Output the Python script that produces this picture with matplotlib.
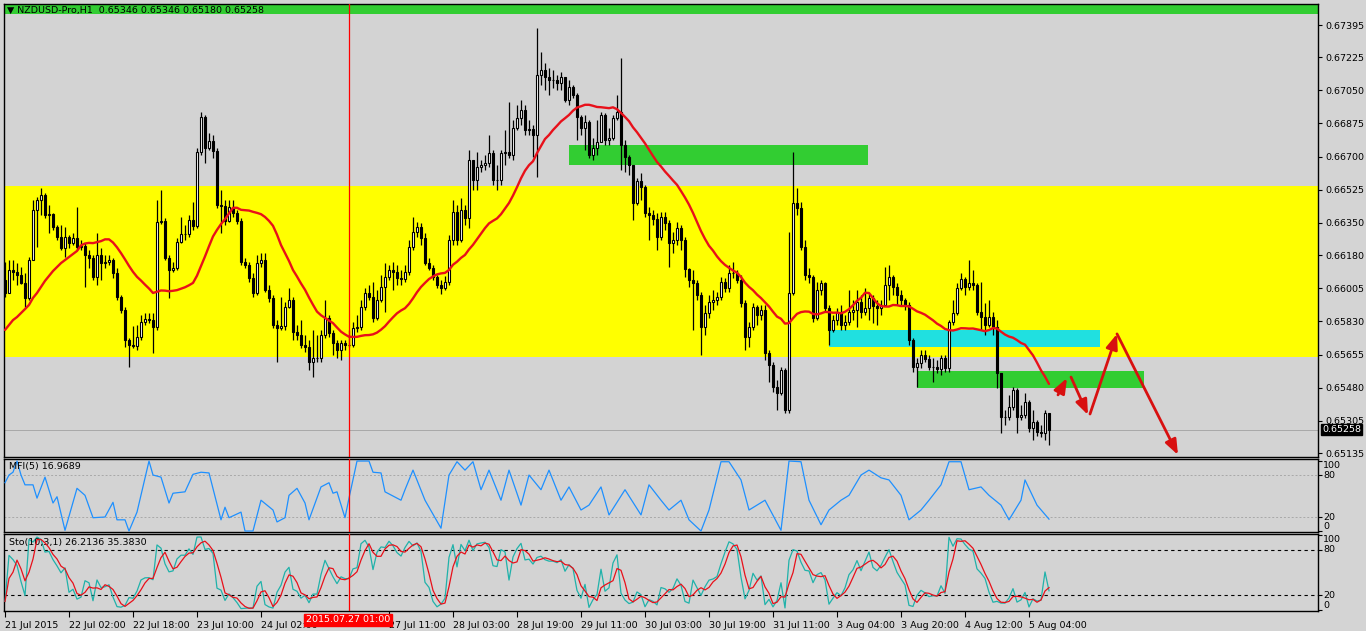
import numpy as np
import pandas as pd
import matplotlib
matplotlib.use('Agg')
import matplotlib.pyplot as plt
from matplotlib.transforms import blended_transform_factory

# ---------------- data (NZDUSD-Pro, H1) ----------------
first_open = 0.66049
closes = [
    0.65980, 0.66101, 0.66090, 0.66075, 0.66033, 0.65954, 0.66154, 0.66418, 0.66471, 0.66498,
    0.66392, 0.66397, 0.66328, 0.66276, 0.66218, 0.66276, 0.66244, 0.66271, 0.66223, 0.66228,
    0.66181, 0.66165, 0.66064, 0.66181, 0.66138, 0.66143, 0.66154, 0.66085, 0.65959, 0.65890,
    0.65732, 0.65706, 0.65700, 0.65748, 0.65826, 0.65843, 0.65837, 0.65800, 0.66354, 0.66360,
    0.66165, 0.66101, 0.66112, 0.66249, 0.66292, 0.66292, 0.66365, 0.66333, 0.66724, 0.66909,
    0.66746, 0.66783, 0.66730, 0.66445, 0.66439, 0.66360, 0.66434, 0.66402, 0.66360, 0.66143,
    0.66128, 0.66059, 0.65980, 0.66138, 0.66154, 0.65996, 0.65954, 0.65811, 0.65795, 0.65805,
    0.65906, 0.65943, 0.65774, 0.65759, 0.65706, 0.65695, 0.65615, 0.65636, 0.65636, 0.65759,
    0.65848, 0.65769, 0.65716, 0.65679, 0.65716, 0.65706, 0.65706, 0.65795, 0.65800, 0.65906,
    0.65980, 0.65959, 0.65848, 0.65943, 0.66012, 0.66064, 0.66101, 0.66090, 0.66059, 0.66054,
    0.66090, 0.66223, 0.66302, 0.66328, 0.66271, 0.66138, 0.66112, 0.66064, 0.66023, 0.66007,
    0.66038, 0.66260, 0.66407, 0.66260, 0.66418, 0.66376, 0.66682, 0.66577, 0.66645, 0.66656,
    0.66666, 0.66719, 0.66577, 0.66577, 0.66719, 0.66724, 0.66709, 0.66852, 0.66904, 0.66946,
    0.66841, 0.66846, 0.66815, 0.67131, 0.67157, 0.67120, 0.67105, 0.67105, 0.67089, 0.67120,
    0.66999, 0.67068, 0.67026, 0.66909, 0.66852, 0.66883, 0.66709, 0.66746, 0.66778, 0.66920,
    0.66788, 0.66799, 0.66904, 0.66935, 0.66762, 0.66698, 0.66656, 0.66455, 0.66571, 0.66540,
    0.66402, 0.66392, 0.66371, 0.66276, 0.66381, 0.66349, 0.66244, 0.66260, 0.66323, 0.66260,
    0.66106, 0.66049, 0.66033, 0.65970, 0.65800, 0.65874, 0.65932, 0.65943, 0.65959, 0.66038,
    0.66007, 0.66085, 0.66085, 0.66049, 0.65927, 0.65748, 0.65800, 0.65906, 0.65864, 0.65890,
    0.65663, 0.65600, 0.65484, 0.65452, 0.65573, 0.65362, 0.65980, 0.66455, 0.66429, 0.66223,
    0.66075, 0.66064, 0.65848, 0.65996, 0.66033, 0.65901, 0.65785, 0.65837, 0.65880, 0.65811,
    0.65826, 0.65880, 0.65890, 0.65932, 0.65880, 0.65901, 0.65954, 0.65911, 0.65901, 0.65917,
    0.66023, 0.66064, 0.66012, 0.65970, 0.65943, 0.65917, 0.65732, 0.65589, 0.65610, 0.65653,
    0.65631, 0.65589, 0.65589, 0.65579, 0.65636, 0.65584, 0.65826, 0.65874, 0.66007, 0.66054,
    0.66012, 0.66033, 0.66023, 0.65880, 0.65853, 0.65811, 0.65853, 0.65800, 0.65557, 0.65325,
    0.65325, 0.65378, 0.65468, 0.65325, 0.65336, 0.65405, 0.65267, 0.65299, 0.65246, 0.65241,
    0.65346, 0.65258]
highs = [
    0.66143, 0.66154, 0.66154, 0.66138, 0.66117, 0.66085, 0.66170, 0.66471, 0.66487, 0.66535,
    0.66508, 0.66445, 0.66402, 0.66339, 0.66339, 0.66328, 0.66287, 0.66297, 0.66434, 0.66260,
    0.66244, 0.66207, 0.66181, 0.66297, 0.66218, 0.66181, 0.66181, 0.66165, 0.66112, 0.65970,
    0.65906, 0.65742, 0.65805, 0.65811, 0.65864, 0.65874, 0.65874, 0.65874, 0.66471, 0.66524,
    0.66376, 0.66181, 0.66143, 0.66271, 0.66381, 0.66339, 0.66392, 0.66460, 0.66746, 0.66935,
    0.66920, 0.66825, 0.66815, 0.66746, 0.66524, 0.66471, 0.66471, 0.66471, 0.66418, 0.66376,
    0.66165, 0.66143, 0.66085, 0.66181, 0.66191, 0.66191, 0.66023, 0.65970, 0.65837, 0.65959,
    0.65932, 0.66007, 0.65959, 0.65811, 0.65837, 0.65759, 0.65732, 0.65785, 0.65759, 0.65785,
    0.65943, 0.65864, 0.65785, 0.65732, 0.65732, 0.65732, 0.65785, 0.65826, 0.65864, 0.65943,
    0.66007, 0.66023, 0.66038, 0.65996, 0.66075, 0.66138, 0.66128, 0.66143, 0.66128, 0.66101,
    0.66128, 0.66260, 0.66381, 0.66354, 0.66349, 0.66297, 0.66165, 0.66128, 0.66075, 0.66049,
    0.66070, 0.66287, 0.66471, 0.66445, 0.66482, 0.66445, 0.66735, 0.66645, 0.66724, 0.66682,
    0.66709, 0.66815, 0.66735, 0.66656, 0.66735, 0.66841, 0.66988, 0.66893, 0.66973, 0.66999,
    0.66973, 0.66893, 0.66867, 0.67379, 0.67252, 0.67194, 0.67168, 0.67157, 0.67131, 0.67146,
    0.67115, 0.67105, 0.67078, 0.67036, 0.66920, 0.66920, 0.66893, 0.66799, 0.66893, 0.66935,
    0.66930, 0.66852, 0.66920, 0.67026, 0.67221, 0.66788, 0.66709, 0.66656, 0.66587, 0.66613,
    0.66551, 0.66434, 0.66418, 0.66402, 0.66407, 0.66407, 0.66365, 0.66302, 0.66354, 0.66339,
    0.66276, 0.66112, 0.66101, 0.66049, 0.65985, 0.65917, 0.65970, 0.65996, 0.65985, 0.66064,
    0.66059, 0.66128, 0.66143, 0.66101, 0.66075, 0.65943, 0.65826, 0.65927, 0.65917, 0.65917,
    0.65917, 0.65679, 0.65615, 0.65521, 0.65589, 0.65584, 0.66302, 0.66724, 0.66535, 0.66460,
    0.66260, 0.66112, 0.66075, 0.66038, 0.66049, 0.66038, 0.65917, 0.65864, 0.65901, 0.65917,
    0.65864, 0.65996, 0.65943, 0.65996, 0.65970, 0.66007, 0.65980, 0.65970, 0.65943, 0.65943,
    0.66117, 0.66128, 0.66075, 0.66033, 0.65996, 0.65954, 0.65932, 0.65742, 0.65636, 0.65679,
    0.65679, 0.65653, 0.65636, 0.65626, 0.65653, 0.65653, 0.65837, 0.65943, 0.66033, 0.66085,
    0.66064, 0.66154, 0.66101, 0.66033, 0.66038, 0.65927, 0.65943, 0.65880, 0.65837, 0.65557,
    0.65362, 0.65441, 0.65484, 0.65479, 0.65389, 0.65452, 0.65415, 0.65362, 0.65309, 0.65283,
    0.65362, 0.65346]
lows = [
    0.65959, 0.65996, 0.66049, 0.66023, 0.66028, 0.65906, 0.65943, 0.66154, 0.66223, 0.66392,
    0.66376, 0.66297, 0.66313, 0.66260, 0.66207, 0.66170, 0.66218, 0.66234, 0.66207, 0.66207,
    0.66012, 0.66112, 0.66049, 0.66023, 0.66049, 0.66112, 0.66128, 0.66059, 0.65943, 0.65874,
    0.65695, 0.65589, 0.65690, 0.65679, 0.65732, 0.65811, 0.65821, 0.65663, 0.65785, 0.66344,
    0.66154, 0.65954, 0.66090, 0.66101, 0.66244, 0.66260, 0.66276, 0.66313, 0.66323, 0.66709,
    0.66666, 0.66735, 0.66693, 0.66429, 0.66297, 0.66339, 0.66354, 0.66381, 0.66344, 0.66128,
    0.66112, 0.66038, 0.65959, 0.65970, 0.66117, 0.65985, 0.65932, 0.65795, 0.65615, 0.65785,
    0.65785, 0.65901, 0.65732, 0.65732, 0.65690, 0.65668, 0.65573, 0.65536, 0.65615, 0.65615,
    0.65742, 0.65748, 0.65653, 0.65636, 0.65626, 0.65679, 0.65695, 0.65695, 0.65774, 0.65785,
    0.65890, 0.65943, 0.65826, 0.65837, 0.65932, 0.65880, 0.66049, 0.65996, 0.66023, 0.66023,
    0.66038, 0.66075, 0.66207, 0.66276, 0.66234, 0.66128, 0.66101, 0.66049, 0.66007, 0.65975,
    0.65996, 0.66023, 0.66234, 0.66234, 0.66249, 0.66339, 0.66323, 0.66524, 0.66524, 0.66618,
    0.66629, 0.66645, 0.66551, 0.66524, 0.66551, 0.66656, 0.66693, 0.66682, 0.66841, 0.66867,
    0.66815, 0.66815, 0.66698, 0.66593, 0.67078, 0.67052, 0.67026, 0.67063, 0.67052, 0.67052,
    0.66988, 0.66973, 0.67010, 0.66788, 0.66815, 0.66735, 0.66693, 0.66682, 0.66709, 0.66788,
    0.66762, 0.66762, 0.66788, 0.66893, 0.66629, 0.66618, 0.66603, 0.66365, 0.66445, 0.66471,
    0.66381, 0.66260, 0.66339, 0.66207, 0.66260, 0.66313, 0.66117, 0.66191, 0.66234, 0.66207,
    0.66064, 0.66012, 0.65785, 0.65943, 0.65653, 0.65759, 0.65848, 0.65890, 0.65917, 0.65943,
    0.65985, 0.65985, 0.66059, 0.66033, 0.65906, 0.65679, 0.65695, 0.65785, 0.65811, 0.65837,
    0.65626, 0.65510, 0.65457, 0.65362, 0.65441, 0.65346, 0.65346, 0.65970, 0.66392, 0.66207,
    0.66049, 0.66033, 0.65826, 0.65837, 0.65970, 0.65880, 0.65706, 0.65774, 0.65811, 0.65785,
    0.65785, 0.65811, 0.65837, 0.65800, 0.65848, 0.65864, 0.65837, 0.65821, 0.65811, 0.65864,
    0.65917, 0.65943, 0.65970, 0.65917, 0.65917, 0.65890, 0.65706, 0.65562, 0.65484, 0.65584,
    0.65615, 0.65573, 0.65510, 0.65557, 0.65547, 0.65562, 0.65562, 0.65811, 0.65864, 0.65996,
    0.65970, 0.65996, 0.65996, 0.65864, 0.65785, 0.65759, 0.65800, 0.65759, 0.65479, 0.65241,
    0.65283, 0.65309, 0.65362, 0.65241, 0.65309, 0.65320, 0.65246, 0.65204, 0.65225, 0.65220,
    0.65204, 0.65180]

# moving average values read for the first bars (before 20 bars of history exist)
ma_head = [0.65785, 0.65811, 0.65837, 0.65853, 0.65874, 0.65895, 0.65917, 0.65954, 0.65980,
           0.66012, 0.66044, 0.66070, 0.66096, 0.66117, 0.66138, 0.66154, 0.66170, 0.66186, 0.66202]
ma_period = 20

# MFI(5) vertices (bar index, value)
mfi_bars = [0, 1, 2, 3, 4, 5, 7, 8, 10, 12, 13, 15, 18, 20, 22, 25, 27, 28, 30, 31, 33, 36, 37, 39,
            41, 42, 45, 47, 49, 51, 54, 55, 56, 59, 60, 62, 64, 67, 68, 70, 71, 73, 75, 76, 79, 81,
            82, 83, 85, 86, 88, 91, 92, 94, 95, 99, 100, 102, 105, 109, 111, 113, 115, 117, 119,
            121, 124, 126, 129, 131, 134, 136, 139, 141, 144, 146, 149, 151, 155, 159, 161, 164,
            166, 169, 171, 174, 176, 179, 181, 184, 186, 190, 194, 196, 199, 201, 204, 206, 209,
            211, 214, 216, 219, 221, 224, 226, 229, 231, 234, 236, 239, 241, 244, 246, 249, 251,
            254, 255, 258, 261]
mfi_values = [69, 80, 84, 100, 80, 66, 66, 47, 77, 40, 49, 1, 61, 51, 19, 20, 41, 16, 16, 0, 27, 100,
              80, 77, 40, 54, 56, 81, 84, 83, 16, 34, 19, 27, 0, 0, 44, 30, 13, 19, 51, 61, 40, 16,
              63, 69, 54, 56, 19, 47, 100, 100, 84, 83, 56, 44, 59, 87, 44, 4, 80, 99, 87, 99, 59,
              87, 44, 87, 37, 80, 59, 87, 44, 63, 30, 37, 63, 23, 59, 23, 66, 44, 30, 44, 16, 0, 30,
              99, 99, 73, 30, 44, 1, 100, 99, 44, 9, 30, 44, 51, 80, 87, 76, 73, 51, 16, 30, 44, 66,
              99, 99, 59, 63, 51, 37, 16, 44, 73, 37, 16.9689]

price_ticks = [0.67395, 0.67225, 0.67050, 0.66875, 0.66700, 0.66525, 0.66350, 0.66180,
               0.66005, 0.65830, 0.65655, 0.65480, 0.65305, 0.65135]
time_tick_bars = [0, 16, 32, 48, 64, 96, 112, 128, 144, 160, 176, 192, 208, 224, 240, 256]
time_tick_labels = ['21 Jul 2015', '22 Jul 02:00', '22 Jul 18:00', '23 Jul 10:00', '24 Jul 02:00',
                    '27 Jul 11:00', '28 Jul 03:00', '28 Jul 19:00', '29 Jul 11:00', '30 Jul 03:00',
                    '30 Jul 19:00', '31 Jul 11:00', '3 Aug 04:00', '3 Aug 20:00', '4 Aug 12:00',
                    '5 Aug 04:00']
cursor_bar = 86
cursor_label = '2015.07.27 01:00'
header = 'NZDUSD-Pro,H1  0.65346 0.65346 0.65180 0.65258'
sto_label = 'Sto(10,3,1) 26.2136 35.3830'

# drawn objects: zones (bar from, bar to, price low, price high)
zone_yellow = (0.65642, 0.66545)
zone_green1 = (141.0, 215.75, 0.66656, 0.66761)
zone_cyan = (206.0, 273.75, 0.65695, 0.65785)
zone_green2 = (228.0, 284.75, 0.65479, 0.65568)
zone_top = (0.67453, 0.67700)
arrow_from_bar = [263.25, 266.5, 271.25, 278.0]
arrow_from_price = [0.65442, 0.65536, 0.65341, 0.65764]
arrow_to_bar = [265.5, 270.75, 278.0, 293.25]
arrow_to_price = [0.65531, 0.65336, 0.65764, 0.65125]

# ---------------- figure ----------------
W, H = 1366, 631
BG = '#D3D3D3'
fig = plt.figure(figsize=(W / 100, H / 100), dpi=100, facecolor='#D4D4D4')
plt.rcParams['font.family'] = ['DejaVu Sans']


def px_axes(top, bottom, left=4, right=1318):
    return fig.add_axes([left / W, 1 - bottom / H, (right - left) / W, (bottom - top) / H])


ax = px_axes(4, 457)
ax_mfi = px_axes(459, 532)
ax_sto = px_axes(534, 611)

n = len(closes)
idx = np.arange(n)
c = np.array(closes)
o = np.r_[first_open, c[:-1]]
h = np.maximum.reduce([np.array(highs), o, c])
l = np.minimum.reduce([np.array(lows), o, c])

for a in (ax, ax_mfi, ax_sto):
    a.set_facecolor(BG)
    a.set_xlim(-0.25, 328.25)
    for s in a.spines.values():
        s.set_color('black')
        s.set_linewidth(1.0)
    a.axvline(cursor_bar, color='#FF0000', lw=0.9, zorder=6)

# zones
ax.axhspan(zone_yellow[0], zone_yellow[1], color='#FFFF00', lw=0, zorder=0.5)
ax.axhspan(zone_top[0], zone_top[1], color='#32CD32', lw=0, zorder=0.5)
for (b0, b1, p0, p1), col in ((zone_green1, '#32CD32'), (zone_cyan, '#20E0E0'), (zone_green2, '#32CD32')):
    ax.add_patch(plt.Rectangle((b0, p0), b1 - b0, p1 - p0, facecolor=col, lw=0, zorder=0.6))

# current price line
ax.axhline(c[-1], color='#A8A8A8', lw=0.7, zorder=1)

# candles
ax.vlines(idx, l, h, color='black', lw=0.9, zorder=2)
up = c >= o
ax.bar(idx[up], (c - o)[up], bottom=o[up], width=0.72, facecolor='white', edgecolor='black', lw=0.8, zorder=3)
ax.bar(idx[~up], (o - c)[~up], bottom=c[~up], width=0.72, facecolor='black', edgecolor='black', lw=0.8, zorder=3)

# moving average
ma = pd.Series(c).rolling(ma_period).mean().to_numpy()
ma[:len(ma_head)] = ma_head
ax.plot(idx, ma, color='#E8101A', lw=1.7, zorder=4, solid_capstyle='round')

# arrows
for x0, y0, x1, y1 in zip(arrow_from_bar, arrow_from_price, arrow_to_bar, arrow_to_price):
    ax.annotate('', xy=(x1, y1), xytext=(x0, y0), annotation_clip=False,
                arrowprops=dict(arrowstyle='-|>,head_length=0.9,head_width=0.35', color='#D81010',
                                lw=2.0, shrinkA=0, shrinkB=0), zorder=7)

ax.set_ylim(0.65114, 0.67506)
ax.yaxis.tick_right()
ax.set_yticks(price_ticks)
ax.set_yticklabels([f'{p:.5f}' for p in price_ticks])
ax.tick_params(axis='y', direction='out', length=3, labelsize=6.8, pad=2, colors='black')
ax.set_xticks([])

# current price box
tr = blended_transform_factory(ax.transAxes, ax.transData)
ax.text(1.0 + 4 / 1314, c[-1], f'{c[-1]:.5f}', transform=tr, color='white', fontsize=6.8,
        va='center', ha='left', bbox=dict(facecolor='black', edgecolor='black', pad=0.8), zorder=10)

# header
fig.text(7 / W, 1 - 10 / H, '\u25BC ' + header, fontsize=6.8, va='center', ha='left', color='black')

# MFI panel
ax_mfi.set_ylim(-1.4, 102.9)
ax_mfi.plot(mfi_bars, mfi_values, color='#1E90FF', lw=0.9, zorder=3)
for lev in (20, 80):
    ax_mfi.axhline(lev, color='#A8A8A8', lw=0.7, ls=(0, (2, 2)), zorder=1)
ax_mfi.text(5 / 1314, 1 - 8 / 73, f'MFI(5) {mfi_values[-1]:.4f}', transform=ax_mfi.transAxes,
            fontsize=6.8, va='center', ha='left')

# Stochastic panel
hh = pd.Series(h).rolling(10, min_periods=1).max().to_numpy()
ll = pd.Series(l).rolling(10, min_periods=1).min().to_numpy()
k = 100 * (c - ll) / np.where(hh - ll == 0, 1, hh - ll)
d = pd.Series(k).rolling(3, min_periods=1).mean().to_numpy()
ax_sto.set_ylim(-1.33, 101.33)
ax_sto.plot(idx, k, color='#20B2AA', lw=0.9, zorder=3)
ax_sto.plot(idx, d, color='#E8101A', lw=0.9, zorder=4)
for lev in (20, 80):
    ax_sto.axhline(lev, color='black', lw=0.8, ls=(0, (3, 3)), zorder=1)
ax_sto.text(5 / 1314, 1 - 8 / 77, sto_label, transform=ax_sto.transAxes,
            fontsize=6.8, va='center', ha='left')

for a in (ax_mfi, ax_sto):
    a.yaxis.tick_right()
    a.set_yticks([0, 20, 80, 100])
    a.set_yticklabels([])
    a.tick_params(axis='y', direction='out', length=3)
    t = blended_transform_factory(a.transAxes, a.transData)
    x0 = 1.0 + 5 / 1314
    a.text(x0, 100, '100', transform=t, fontsize=6.8, va='top', ha='left')
    a.text(x0, 80, '80', transform=t, fontsize=6.8, va='center', ha='left')
    a.text(x0, 20, '20', transform=t, fontsize=6.8, va='center', ha='left')
    a.text(x0, 0, '0', transform=t, fontsize=6.8, va='bottom', ha='left')

ax_mfi.set_xticks([])
ax_sto.set_xticks(time_tick_bars)
ax_sto.set_xticklabels(time_tick_labels)
ax_sto.tick_params(axis='x', direction='out', length=4, labelsize=6.8, pad=3)
for tl in ax_sto.get_xticklabels():
    tl.set_horizontalalignment('left')

# cursor time label
fig.text((5 + 4 * cursor_bar - 1) / W, 1 - 620 / H, cursor_label, color='white', fontsize=6.8,
         ha='center', va='center', bbox=dict(facecolor='#FF0000', edgecolor='#FF0000', pad=1.2), zorder=10)

fig.savefig('out.png', dpi=100, facecolor=fig.get_facecolor())
